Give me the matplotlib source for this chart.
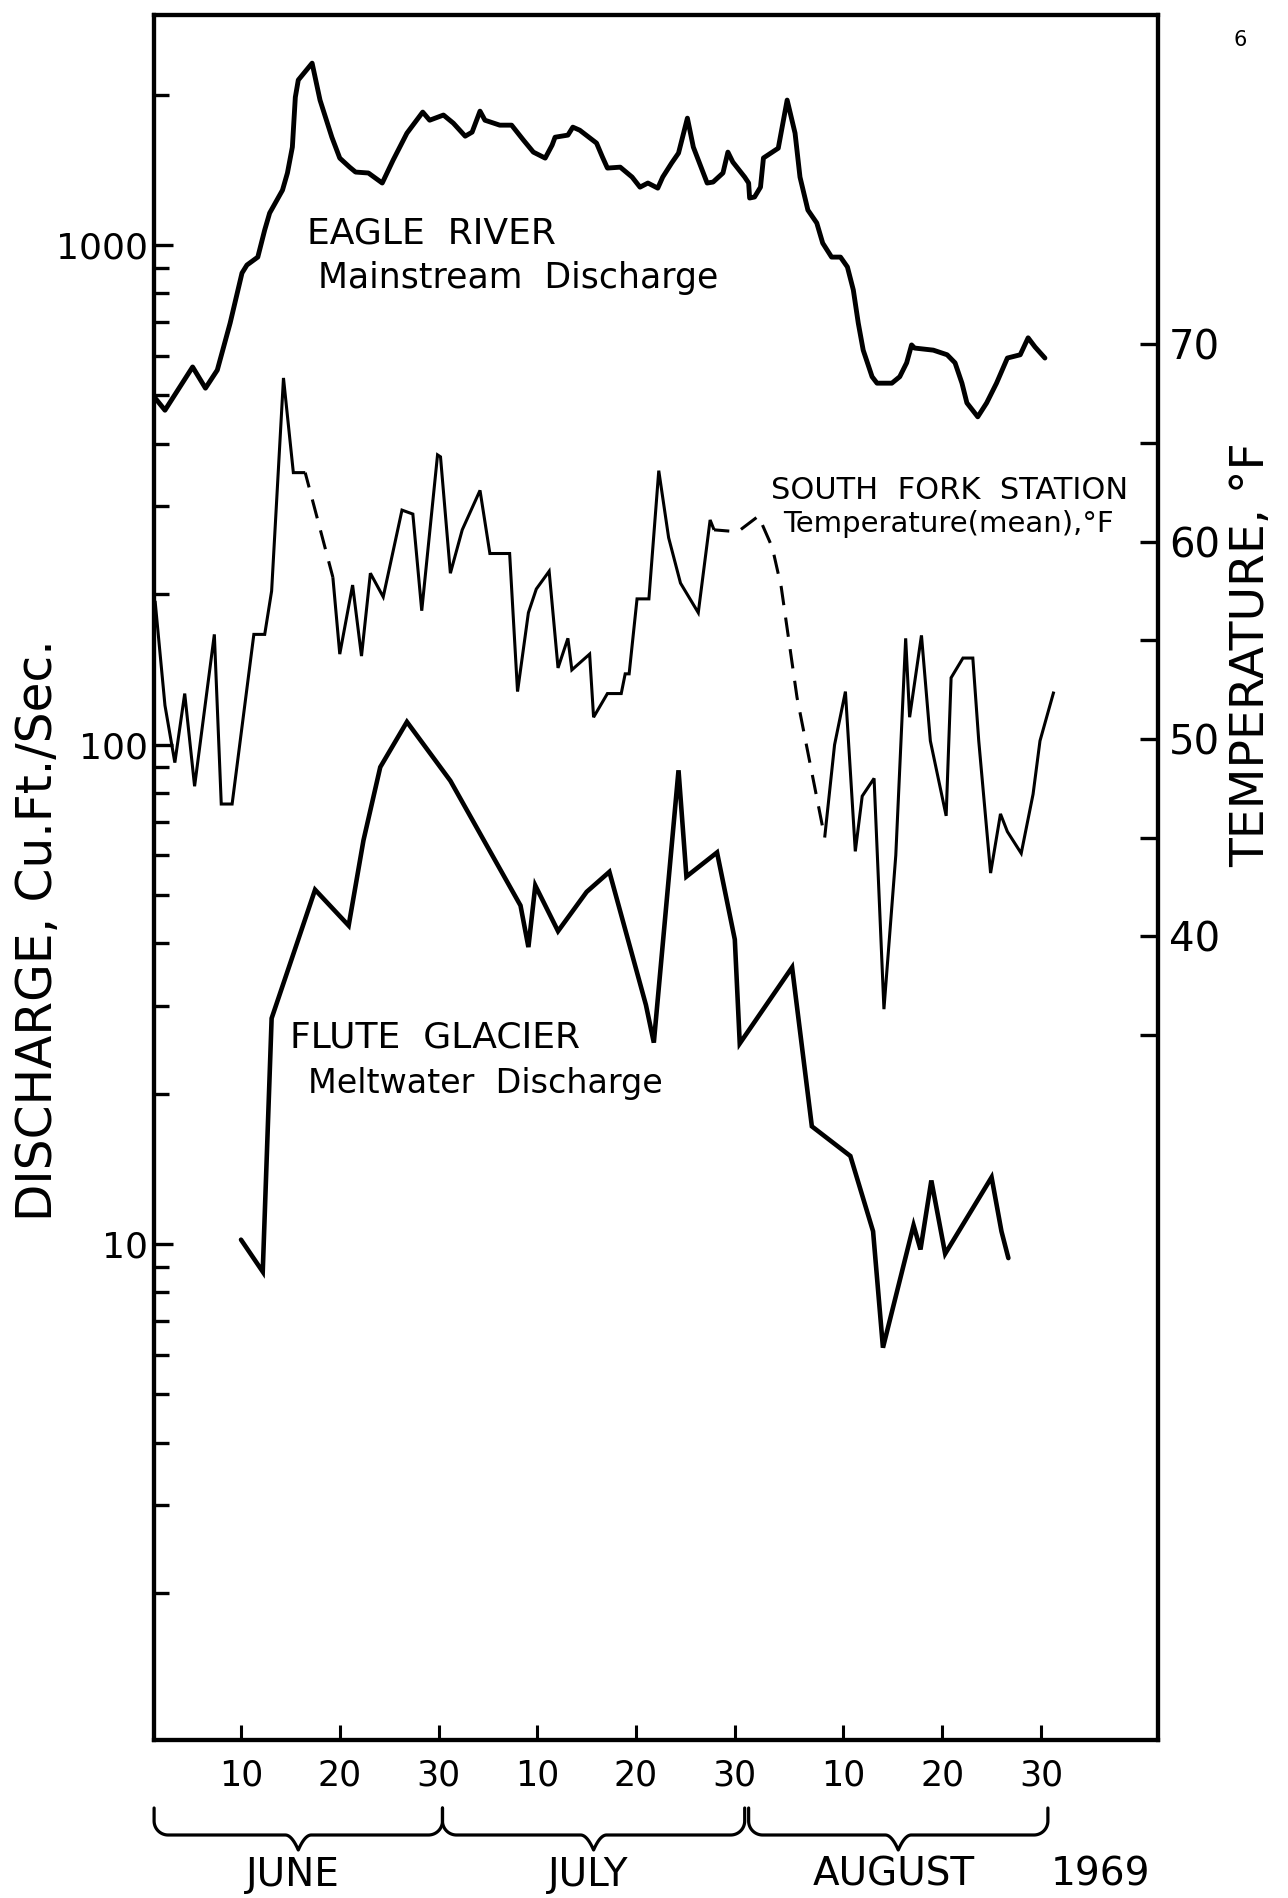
import numpy as np
import matplotlib
matplotlib.use("Agg")
import matplotlib.pyplot as plt
from matplotlib.ticker import FixedLocator, NullFormatter

plt.rcParams['font.family'] = ['DejaVu Sans']
plt.rcParams['lines.scale_dashes'] = False

# ---------------- data (day 1 = June 1, 1969) ----------------
eagle_day = [1.3, 2.3, 5.1, 6.4, 7.6, 8.9, 10.1, 10.6, 11.7, 12.4, 12.9, 14.2, 14.7, 15.2, 15.5,
             15.8, 17.2, 18.0, 19.2, 20.0, 21.0, 21.6, 22.9, 24.3, 25.4, 26.8, 28.4, 29.1, 30.5,
             31.5, 32.7, 33.4, 34.2, 34.7, 36.2, 37.4, 38.6, 39.6, 40.8, 41.5, 41.8, 43.1, 43.6,
             44.3, 46.0, 46.6, 47.1, 48.4, 49.6, 50.4, 51.2, 52.2, 52.7, 53.6, 54.3, 55.2, 55.8,
             57.2, 57.8, 58.8, 59.3, 59.8, 61.0, 61.4, 61.5, 62.0, 62.6, 62.9, 64.4, 65.3, 66.1,
             66.6, 67.4, 68.3, 68.9, 69.8, 70.7, 71.4, 72.0, 72.5, 73.0, 73.9, 74.4, 75.9, 76.7,
             77.4, 77.9, 78.2, 80.1, 81.5, 82.3, 83.0, 83.5, 84.6, 85.5, 86.5, 87.6, 88.9, 89.7,
             90.4, 91.4]
eagle_cfs = [494, 467, 570, 517, 562, 698, 879, 912, 946, 1072, 1159, 1288, 1394, 1571, 1977,
             2140, 2313, 1951, 1644, 1493, 1432, 1400, 1394, 1331, 1479, 1675, 1846, 1778, 1821,
             1754, 1652, 1683, 1854, 1778, 1738, 1738, 1622, 1535, 1493, 1585, 1644, 1660, 1722,
             1698, 1600, 1500, 1426, 1432, 1368, 1306, 1331, 1300, 1368, 1459, 1528, 1795, 1571,
             1331, 1337, 1394, 1535, 1466, 1368, 1331, 1242, 1248, 1306, 1494, 1563, 1951, 1675,
             1368, 1175, 1107, 1009, 946, 946, 904, 813, 698, 616, 545, 529, 529, 545,
             581, 631, 622, 616, 603, 581, 529, 483, 453, 483, 529, 594, 603, 652,
             625, 594]

# South Fork station mean temperature (deg F): measured runs and dashed (estimated) gaps
temp_june_day = [1.3, 2.3, 3.3, 4.3, 5.3, 7.3, 8.0, 9.1, 11.3, 12.4, 13.1, 14.3, 15.3, 16.5]
temp_june_f = [57.0, 51.7, 48.8, 52.3, 47.6, 55.3, 46.7, 46.7, 55.3, 55.3, 57.5, 68.3, 63.5, 63.5]
temp_gap1_day = [16.5, 19.3]
temp_gap1_f = [63.5, 58.2]
temp_mid_day = [19.3, 20.0, 21.3, 22.2, 23.1, 24.4, 26.3, 27.4, 28.3, 29.9, 30.2, 31.2, 32.4,
                34.2, 35.2, 37.2, 38.0, 39.1, 39.9, 41.2, 42.1, 43.1, 43.5, 45.3, 45.7, 47.1,
                48.5, 48.9, 49.3, 50.1, 51.3, 52.3, 53.3, 54.5, 56.3, 57.5, 57.9]
temp_mid_f = [58.2, 54.3, 57.8, 54.2, 58.4, 57.2, 61.6, 61.4, 56.5, 64.4, 64.3, 58.4, 60.6,
              62.6, 59.4, 59.4, 52.4, 56.4, 57.6, 58.5, 53.6, 55.1, 53.5, 54.3, 51.1, 52.3,
              52.3, 53.3, 53.3, 57.1, 57.1, 63.6, 60.2, 57.9, 56.4, 61.1, 60.6]
temp_gap2_day = [57.9, 60.3, 62.4, 63.8, 64.7, 66.3, 69.1]
temp_gap2_f = [60.6, 60.5, 61.3, 59.7, 57.7, 52.1, 45.0]
temp_aug_day = [69.1, 70.1, 71.2, 72.2, 72.9, 74.1, 75.1, 76.3, 77.3, 77.7, 78.9, 79.8, 81.4,
                81.9, 83.1, 84.1, 84.7, 85.9, 86.9, 87.6, 89.0, 90.2, 90.9, 92.3]
temp_aug_f = [45.0, 49.7, 52.4, 44.3, 47.1, 48.0, 36.3, 44.1, 55.1, 51.1, 55.25, 49.9, 46.1,
              53.1, 54.1, 54.1, 49.9, 43.2, 46.2, 45.3, 44.2, 47.2, 49.9, 52.4]

flute_day = [10.0, 12.2, 13.1, 17.5, 20.9, 22.4, 24.1, 26.8, 31.2, 38.3, 39.1, 39.8, 42.1, 45.0,
             47.3, 51.0, 51.8, 54.3, 55.1, 58.2, 60.0, 60.5, 65.8, 67.8, 71.7, 74.0, 75.0, 78.1,
             78.8, 79.9, 81.3, 86.0, 87.0, 87.7]
flute_cfs = [10.2, 8.8, 28.3, 51.2, 43.4, 64.3, 90.1, 111, 84.6, 47.6, 39.3, 52.2, 42.3, 50.7,
             55.6, 30.1, 25.3, 88.8, 54.4, 60.8, 40.7, 25.2, 35.8, 17.2, 15.0, 10.6, 6.2, 10.9,
             9.75, 13.4, 9.56, 13.6, 10.6, 9.37]

tick_days = [10, 20, 30, 40, 50, 60, 71, 81, 91]
tick_labels = ["10", "20", "30", "10", "20", "30", "10", "20", "30"]
month_names = ["JUNE", "JULY", "AUGUST"]
month_spans = [(1.2, 30.4), (30.4, 61.0), (61.4, 91.7)]
year_label = "1969"
q_major = [10, 100, 1000]
q_major_labels = ["10", "100", "1000"]
t_major = [40, 50, 60, 70]
t_minor = [35, 45, 55, 65]

# ---------------- figure ----------------
W, H = 1288, 1898
fig = plt.figure(figsize=(W / 100, H / 100), dpi=100)
fig.patch.set_facecolor('white')

L, R, T, B = 154, 1158, 15, 1740
ax = fig.add_axes([L / W, 1 - B / H, (R - L) / W, (B - T) / H])
ax.set_yscale('log')
ax.set_xlim(1.19, 102.85)
ax.set_ylim(1.016, 2888)

ax2 = ax.twinx()
ax2.set_ylim(-0.75, 86.7)

lw_spine = 3.0
for a in (ax, ax2):
    for s in a.spines.values():
        s.set_linewidth(lw_spine)
        s.set_color('black')

# left (log) axis ticks
ax.yaxis.set_major_locator(FixedLocator(q_major))
ax.set_yticklabels(q_major_labels)
minor_q = [m * 10 ** e for e in range(0, 4) for m in range(2, 10) if m * 10 ** e < 2888]
ax.yaxis.set_minor_locator(FixedLocator(minor_q))
ax.yaxis.set_minor_formatter(NullFormatter())
ax.tick_params(axis='y', which='major', direction='in', length=14, width=2.4,
               labelsize=26, pad=4)
ax.tick_params(axis='y', which='minor', direction='in', length=11, width=2.4)

# bottom axis
ax.set_xticks(tick_days)
ax.set_xticklabels(tick_labels)
ax.tick_params(axis='x', which='major', direction='in', length=11, width=2.2,
               labelsize=25, pad=13)

# right (temperature) axis
ax2.set_yticks(t_major)
ax2.set_yticklabels([str(t) for t in t_major])
ax2.set_yticks(t_minor, minor=True)
ax2.tick_params(axis='y', which='both', direction='in', length=13, width=2.4,
                labelsize=29, pad=8)

# ---------------- series ----------------
ax.plot(eagle_day, eagle_cfs, color='black', lw=3.5,
        solid_joinstyle='round', solid_capstyle='round', zorder=3)
ax.plot(flute_day, flute_cfs, color='black', lw=3.3,
        solid_joinstyle='miter', solid_capstyle='round', zorder=3)

tkw = dict(color='black', lw=2.2, solid_joinstyle='miter', solid_capstyle='butt', zorder=3)
ax2.plot(temp_june_day, temp_june_f, **tkw)
ax2.plot(temp_mid_day, temp_mid_f, **tkw)
ax2.plot(temp_aug_day, temp_aug_f, **tkw)
dkw = dict(color='black', lw=2.2, linestyle=(3, (14, 9)), dash_capstyle='butt', zorder=3)
ax2.plot(temp_gap1_day, temp_gap1_f, **dkw)
ax2.plot(temp_gap2_day, temp_gap2_f, **dkw)

# ---------------- overlay in pixel coordinates ----------------
ov = fig.add_axes([0, 0, 1, 1])
ov.set_xlim(0, W)
ov.set_ylim(H, 0)
ov.axis('off')
ov.patch.set_visible(False)


def day_to_px(d):
    return ax.transData.transform((d, 10.0))[0]


def brace(x0, x1, y_top=1808, y_h=1835, y_tip=1850, r=14, tip_w=13):
    xm = 0.5 * (x0 + x1)
    t = np.linspace(0, np.pi / 2, 20)
    u = np.linspace(0, 1, 15)
    xs, ys = [x0], [y_top]
    xs += list(x0 + r - r * np.cos(t)); ys += list(y_h - r + r * np.sin(t))
    xs += list(xm - tip_w * (1 - u)); ys += list(y_h + (y_tip - y_h) * u ** 2)
    xs += list(xm + tip_w * u); ys += list(y_h + (y_tip - y_h) * (1 - u) ** 2)
    xs += list(x1 - r + r * np.sin(t)); ys += list(y_h - r + r * np.cos(t))
    xs.append(x1); ys.append(y_top)
    ov.plot(xs, ys, color='black', lw=2.3, solid_joinstyle='round', solid_capstyle='round')
    return xm


for name, (d0, d1) in zip(month_names, month_spans):
    xm = brace(day_to_px(d0), day_to_px(d1))
    ov.text(xm - 5, 1875, name, fontsize=28, ha='center', va='center')
ov.text(1100, 1875, year_label, fontsize=28, ha='center', va='center')

# axis titles
ov.text(38, 930, "DISCHARGE, Cu.Ft./Sec.", fontsize=35, rotation=90,
        ha='center', va='center')
ov.text(1252, 655, "TEMPERATURE, \u00b0F", fontsize=34, rotation=90,
        ha='center', va='center')

# series annotations
ov.text(307, 243, "EAGLE  RIVER", fontsize=26, ha='left', va='baseline')
ov.text(318, 288, "Mainstream  Discharge", fontsize=25, ha='left', va='baseline')
ov.text(771, 499, "SOUTH  FORK  STATION", fontsize=22, ha='left', va='baseline')
ov.text(783, 532, "Temperature(mean),\u00b0F", fontsize=21, ha='left', va='baseline')
ov.text(290, 1048, "FLUTE  GLACIER", fontsize=26, ha='left', va='baseline')
ov.text(308, 1093, "Meltwater  Discharge", fontsize=24, ha='left', va='baseline')

# page number
ov.text(1240, 40, "6", fontsize=15, ha='center', va='center')

fig.savefig("out.png", dpi=100, facecolor='white')
